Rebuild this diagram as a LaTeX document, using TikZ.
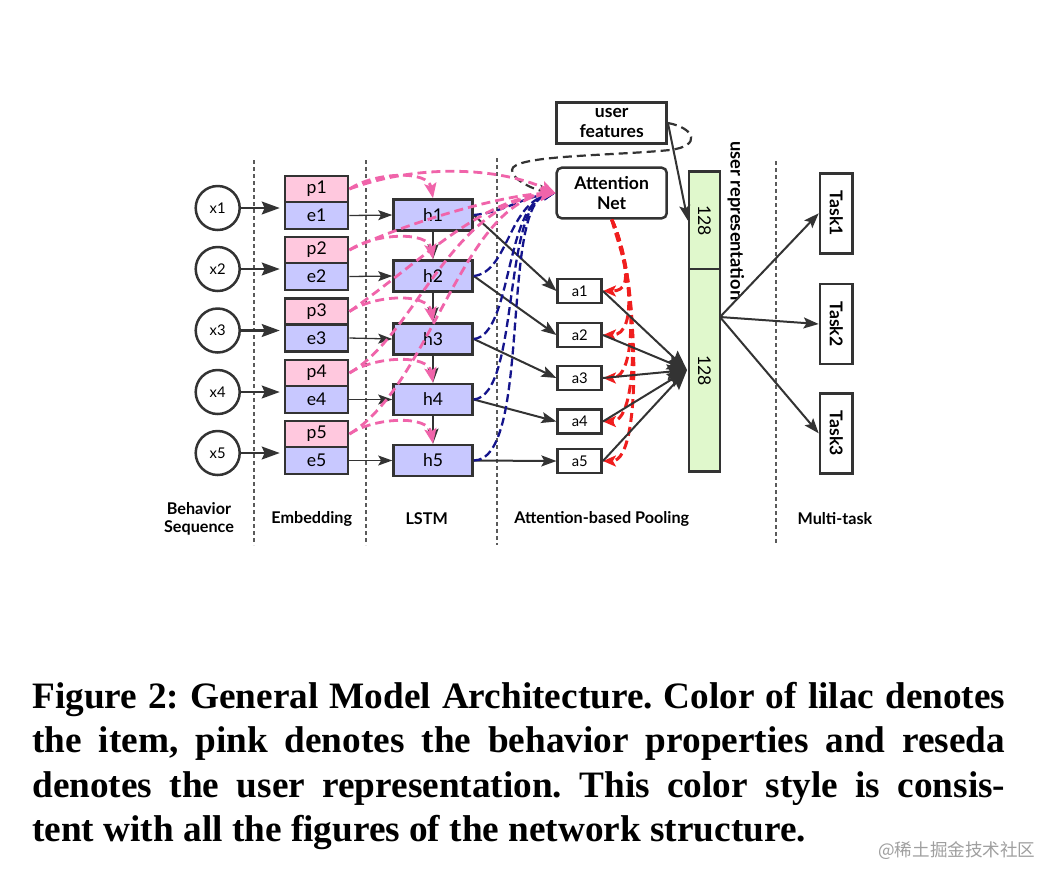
\documentclass[tikz,border=0pt]{standalone}
\usepackage{fontspec}
\setmainfont{Lato}
\newfontfamily\capfont{Liberation Serif}
\newfontfamily\cjkfont{Noto Sans CJK SC}
\usetikzlibrary{arrows.meta}
\newlength\pxu
\setlength\pxu{0.025cm}
\definecolor{pinkfill}{RGB}{255,200,222}
\definecolor{lilac}{RGB}{200,200,255}
\definecolor{reseda}{RGB}{224,248,204}
\definecolor{edgec}{RGB}{51,51,51}
\definecolor{pinkline}{RGB}{240,100,170}
\definecolor{navyline}{RGB}{20,20,140}
\definecolor{redline}{RGB}{240,30,30}
\definecolor{sepc}{RGB}{90,90,90}
\frenchspacing
\begin{document}
\begin{tikzpicture}[x=0.025cm,y=-0.025cm,
  bx/.style={draw=edgec, line width=2.5\pxu, inner sep=0pt, font=\fontsize{12.5}{14}\selectfont},
  pbox/.style={bx, fill=pinkfill, minimum width=63\pxu, minimum height=26\pxu},
  ebox/.style={bx, fill=lilac, minimum width=63\pxu, minimum height=27\pxu},
  hbox/.style={bx, fill=lilac, minimum width=79\pxu, minimum height=31\pxu},
  abox/.style={bx, fill=white, minimum width=44\pxu, minimum height=24\pxu, font=\fontsize{10.5}{12}\selectfont},
  xcirc/.style={circle, draw=edgec, line width=2.5\pxu, minimum size=44\pxu, inner sep=0pt, font=\fontsize{10.5}{12}\selectfont},
  gbox/.style={draw=edgec, line width=2.5\pxu, fill=reseda, minimum width=31\pxu, inner sep=0pt},
  tbox/.style={draw=edgec, line width=2.5\pxu, fill=white, minimum width=32.7\pxu, minimum height=80\pxu, inner sep=0pt},
  topbox/.style={draw=edgec, line width=2.5\pxu, fill=white, minimum width=110\pxu, inner sep=0pt, align=center, font=\bfseries\fontsize{12.5}{14.2}\selectfont},
  lab/.style={inner sep=0pt, align=center, font=\bfseries\fontsize{11.5}{12.8}\selectfont},
  sepline/.style={draw=sepc, line width=1.2\pxu, dash pattern=on 4\pxu off 3\pxu},
  thickarr/.style={draw=edgec, line width=2.2\pxu, -{Stealth[length=12.8pt,width=9.2pt,inset=2.1pt]}},
  thinarr/.style={draw=edgec, line width=1.3\pxu, -{Stealth[length=10pt,width=7.1pt,inset=2.1pt]}},
  midarr/.style={draw=edgec, line width=2\pxu, -{Stealth[length=10.7pt,width=7.8pt,inset=2.1pt]}},
  pinkarr/.style={draw=pinkline, line width=2.8\pxu, dash pattern=on 9\pxu off 5\pxu, -{Stealth[length=10.7pt,width=8.5pt,inset=2.1pt]}},
  navyarr/.style={draw=navyline, line width=2.3\pxu, dash pattern=on 8\pxu off 4\pxu, -{Stealth[length=8.5pt,width=6.4pt,inset=1.4pt]}},
  redarr/.style={draw=redline, line width=3\pxu, dash pattern=on 9\pxu off 5\pxu, -{Stealth[length=9.2pt,width=7.8pt,inset=2.1pt]}},
  blackdash/.style={draw=edgec, line width=2.2\pxu, dash pattern=on 9\pxu off 5\pxu, -{Stealth[length=11.4pt,width=8.5pt,inset=2.1pt]}},
  mergearr/.style={draw=edgec, line width=2\pxu, -{Stealth[length=14.2pt,width=10.7pt,inset=2.1pt]}},
  rotlab/.style={rotate=-90, font=\fontsize{12.5}{14}\selectfont},
  rotbold/.style={rotate=-90, font=\bfseries\fontsize{12.5}{14}\selectfont},
  capline/.style={anchor=base west, inner sep=0pt, font={\capfont\bfseries\fontsize{26.5}{30}\selectfont}}
]
\useasboundingbox (0,0) rectangle (1064,884);
\fill[white] (0,0) rectangle (1064,884);

% separators
\draw[sepline] (254,160) -- (254,545);
\draw[sepline] (366,160) -- (366,545);
\draw[sepline] (497,158) -- (497,545);
\draw[sepline] (776,161) -- (776,545);

% main nodes
\foreach \i/\T/\hy/\ay in {1/176/215/291, 2/237/276/335, 3/298.5/339/378, 4/360/399.5/421.5, 5/421/460.5/461}{
  \node[xcirc] (x\i) at (217.7,\T+32) {x\i};
  \node[pbox] (p\i) at (316.7,\T+13) {p\i};
  \node[ebox] (e\i) at (316.7,\T+39.5) {e\i};
  \node[hbox] (h\i) at (433,\hy) {h\i};
  \node[abox] (a\i) at (579.7,\ay) {a\i};
}

\node[topbox, minimum height=40.6\pxu] (UF) at (611.7,123) {user\\features};
\node[topbox, minimum height=50.6\pxu, rounded corners=5\pxu] (AN) at (611.7,193) {Attention\\Net};

\node[gbox, minimum height=97.3\pxu, label={[rotlab]center:128}] (G1) at (704.5,220.35) {};
\node[gbox, minimum height=202.7\pxu, label={[rotlab]center:128}] (G2) at (704.5,370.35) {};
\node[rotate=-90, inner sep=0pt, font=\bfseries\fontsize{13}{14}\selectfont] (UR) at (736,221) {user representation};

\node[tbox, label={[rotbold]center:Task1}] (T1) at (836.3,213.3) {};
\node[tbox, label={[rotbold]center:Task2}] (T2) at (836.3,324) {};
\node[tbox, label={[rotbold]center:Task3}] (T3) at (836.3,433.3) {};

\coordinate (M) at (687,370);
\coordinate (S) at (720,317);

% section labels
\node[lab] (L1) at (199,519) {Behavior\\Sequence};
\node[lab] (L2) at (311.7,519.3) {Embedding};
\node[lab] (L3) at (426.7,519) {LSTM};
\node[lab] (L4) at (601.7,519.3) {Attention-based Pooling};
\node[lab] (L5) at (835,518.3) {Multi-task};

% solid arrows
\foreach \i in {1,...,5}{
  \draw[thickarr, shorten >=3pt] (x\i.east) -- (x\i.east -| e\i.west);
  \draw[thinarr] (e\i.east) -- (h\i.west);
  \draw[midarr] (h\i.east) -- (a\i.west);
}
\foreach \i/\j in {1/2,2/3,3/4,4/5}{
  \draw[midarr] (h\i.south) -- (h\j.north);
}

% red dashed attention
\draw[redarr] (AN.south) .. controls (620,250) and (638,291) .. (a1.east);
\draw[redarr] (AN.south) .. controls (628,260) and (640,335) .. (a2.east);
\draw[redarr] (AN.south) .. controls (634,265) and (640,378) .. (a3.east);
\draw[redarr] (AN.south) .. controls (637,270) and (642,421.5) .. (a4.east);
\draw[redarr] (AN.south) .. controls (638,275) and (644,461) .. (a5.east);

% merge
\foreach \i in {1,...,5}{
  \draw[mergearr] (a\i.east) -- (M);
}

% user features
\draw[midarr] (UF.east) -- (G1.west);
\draw[blackdash] (UF.east) .. controls (695,128) and (702,146) .. (670,150)
   .. controls (610,156) and (512,155) .. (512,170)
   .. controls (512,180) and (535,190) .. (AN.west);

% tasks
\draw[midarr] (S) -- (T1.west);
\draw[midarr] (S) -- (T2.west);
\draw[midarr] (S) -- (T3.west);

% navy dashed h -> attention net
\draw[navyarr] (h1.east) .. controls (505,212) and (520,198) .. (AN.west);
\draw[navyarr] (h2.east) .. controls (508,272) and (508,205) .. (AN.west);
\draw[navyarr] (h3.east) .. controls (512,335) and (505,205) .. (AN.west);
\draw[navyarr] (h4.east) .. controls (520,395) and (502,205) .. (AN.west);
\draw[navyarr] (h5.east) .. controls (532,460) and (500,205) .. (AN.west);

% pink dashed p -> h
\foreach \i/\T in {1/176, 2/237, 3/298.5, 4/360, 5/421}{
  \draw[pinkarr] (p\i.east) .. controls (375,\T-4) and (428,\T-6) .. (h\i.north);
}
% pink dashed p -> attention net
\draw[pinkarr] (p1.east) .. controls (420,163) and (500,168) .. (AN.west);
\draw[pinkarr] (p2.east) .. controls (400,225) and (500,195) .. (AN.west);
\draw[pinkarr] (p3.east) .. controls (420,262) and (480,200) .. (AN.west);
\draw[pinkarr] (p4.east) .. controls (415,335) and (450,205) .. (AN.west);
\draw[pinkarr] (p5.east) .. controls (430,385) and (462,205) .. (AN.west);

% caption
\node[capline] (C1) at (32,708) {\makebox[973\pxu][s]{Figure 2: General Model Architecture. Color of lilac denotes}};
\node[capline] (C2) at (32,752.5) {\makebox[973\pxu][s]{the item, pink denotes the behavior properties and reseda}};
\node[capline] (C3) at (32,797) {\makebox[973\pxu][s]{denotes the user representation. This color style is consis-}};
\node[capline] (C4) at (32,841) {tent with all the figures of the network structure.};
\node[anchor=west, inner sep=0pt, text=gray!75, font=\cjkfont\fontsize{12.5}{14}\selectfont] (WM) at (878,851) {@稀土掘金技术社区};
\end{tikzpicture}
\end{document}
